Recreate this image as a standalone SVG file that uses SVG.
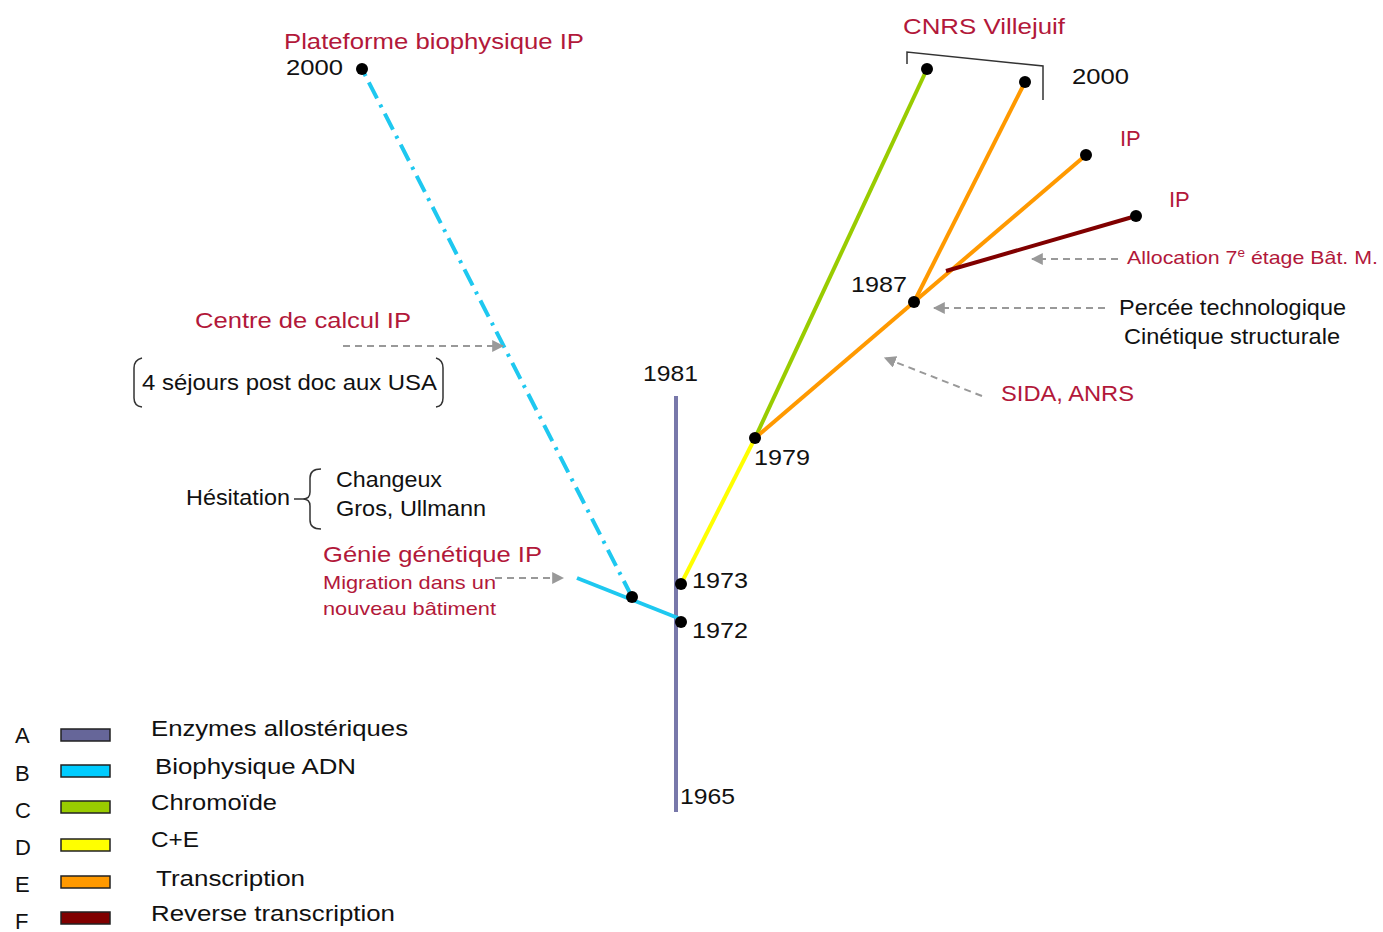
<svg xmlns="http://www.w3.org/2000/svg" width="1383" height="932" viewBox="0 0 1383 932">
<style>
text{font-family:"Liberation Sans",Arial,sans-serif;font-size:22px;fill:#111}
.r{fill:#b2183a}
.s{font-size:19px}
.dot{fill:#000}
.arr{stroke:#999;stroke-width:2;stroke-dasharray:7,5;fill:none;marker-end:url(#ah)}
.br{stroke:#333;stroke-width:1.5;fill:none}
.sw{stroke:#222;stroke-width:1.5}
</style>
<defs>
<marker id="ah" viewBox="0 0 10 10" refX="9" refY="5" markerWidth="6" markerHeight="6" markerUnits="strokeWidth" orient="auto">
<path d="M0,0 L10,5 L0,10 z" fill="#999"/>
</marker>
</defs>
<rect width="1383" height="932" fill="#fff"/>
<g id="connectors">
<line x1="676" y1="396" x2="676" y2="812" stroke="#7878aa" stroke-width="4"/>
<line x1="577" y1="578" x2="678" y2="618" stroke="#1ec8f0" stroke-width="4"/>
<line x1="632" y1="597" x2="362" y2="69" stroke="#1ec8f0" stroke-width="4" stroke-dasharray="18,7,3,7"/>
<line x1="681" y1="584" x2="755" y2="438" stroke="#ffff00" stroke-width="4"/>
<line x1="755" y1="438" x2="927" y2="69" stroke="#99cc00" stroke-width="4"/>
<line x1="755" y1="438" x2="914" y2="302" stroke="#ff9900" stroke-width="4"/>
<line x1="914" y1="302" x2="1025" y2="82" stroke="#ff9900" stroke-width="4"/>
<line x1="914" y1="302" x2="1086" y2="155" stroke="#ff9900" stroke-width="4"/>
<line x1="946" y1="271" x2="1136" y2="216" stroke="#800000" stroke-width="4"/>
<path class="arr" d="M343,346 H503"/>
<path class="arr" d="M495,578 H563"/>
<path class="arr" d="M1118,259 H1032"/>
<path class="arr" d="M1105,308 H934"/>
<path class="arr" d="M982,396 L885,358"/>
<path class="br" d="M907,64 V52 L1043,66 V100"/>
<path class="br" d="M142,358 Q134,360 134,368 V398 Q134,406 142,407"/>
<path class="br" d="M436,358 Q443,360 443,368 V398 Q443,406 436,407"/>
<path class="br" d="M321,469 Q310,469 310,478 V492 Q310,499 303,499 Q310,499 310,506 V520 Q310,529 321,529 M294,499 H303"/>
</g>
<g id="dots">
<circle class="dot" cx="362" cy="69" r="6"/>
<circle class="dot" cx="632" cy="597" r="6"/>
<circle class="dot" cx="681" cy="622" r="6"/>
<circle class="dot" cx="681" cy="584" r="6"/>
<circle class="dot" cx="755" cy="438" r="6"/>
<circle class="dot" cx="914" cy="302" r="6"/>
<circle class="dot" cx="927" cy="69" r="6"/>
<circle class="dot" cx="1025" cy="82" r="6"/>
<circle class="dot" cx="1086" cy="155" r="6"/>
<circle class="dot" cx="1136" cy="216" r="6"/>
</g>
<g id="labels">
<text class="r" x="284" y="49" textLength="300" lengthAdjust="spacingAndGlyphs">Plateforme biophysique IP</text>
<text x="286" y="75" textLength="57" lengthAdjust="spacingAndGlyphs">2000</text>
<text class="r" x="903" y="34" textLength="162" lengthAdjust="spacingAndGlyphs">CNRS Villejuif</text>
<text x="1072" y="84" textLength="57" lengthAdjust="spacingAndGlyphs">2000</text>
<text class="r" x="1120" y="146">IP</text>
<text class="r" x="1169" y="207">IP</text>
<text class="r s" x="1127" y="264" textLength="251" lengthAdjust="spacingAndGlyphs">Allocation 7<tspan font-size="12" dy="-7">e</tspan><tspan dy="7"> étage Bât. M.</tspan></text>
<text x="1119" y="315" textLength="227" lengthAdjust="spacingAndGlyphs">Percée technologique</text>
<text x="1124" y="344" textLength="216" lengthAdjust="spacingAndGlyphs">Cinétique structurale</text>
<text class="r" x="1001" y="401" textLength="133" lengthAdjust="spacingAndGlyphs">SIDA, ANRS</text>
<text x="851" y="292" textLength="56" lengthAdjust="spacingAndGlyphs">1987</text>
<text x="754" y="465" textLength="56" lengthAdjust="spacingAndGlyphs">1979</text>
<text x="643" y="381" textLength="55" lengthAdjust="spacingAndGlyphs">1981</text>
<text x="692" y="588" textLength="56" lengthAdjust="spacingAndGlyphs">1973</text>
<text x="692" y="638" textLength="56" lengthAdjust="spacingAndGlyphs">1972</text>
<text x="680" y="804" textLength="55" lengthAdjust="spacingAndGlyphs">1965</text>
<text class="r" x="195" y="328" textLength="216" lengthAdjust="spacingAndGlyphs">Centre de calcul IP</text>
<text x="142" y="390" textLength="295" lengthAdjust="spacingAndGlyphs">4 séjours post doc aux USA</text>
<text x="186" y="505" textLength="104" lengthAdjust="spacingAndGlyphs">Hésitation</text>
<text x="336" y="487" textLength="106" lengthAdjust="spacingAndGlyphs">Changeux</text>
<text x="336" y="516" textLength="150" lengthAdjust="spacingAndGlyphs">Gros, Ullmann</text>
<text class="r" x="323" y="562" textLength="219" lengthAdjust="spacingAndGlyphs">Génie génétique IP</text>
<text class="r s" x="323" y="589" textLength="173" lengthAdjust="spacingAndGlyphs">Migration dans un</text>
<text class="r s" x="323" y="615" textLength="173" lengthAdjust="spacingAndGlyphs">nouveau bâtiment</text>
</g>
<g id="legend">
<text x="15" y="743">A</text>
<text x="15" y="781">B</text>
<text x="15" y="818">C</text>
<text x="15" y="855">D</text>
<text x="15" y="892">E</text>
<text x="15" y="929">F</text>
<rect class="sw" x="61" y="729" width="49" height="12" fill="#666699"/>
<rect class="sw" x="61" y="765" width="49" height="12" fill="#00ccff"/>
<rect class="sw" x="61" y="801" width="49" height="12" fill="#99cc00"/>
<rect class="sw" x="61" y="839" width="49" height="12" fill="#ffff00"/>
<rect class="sw" x="61" y="876" width="49" height="12" fill="#ff9900"/>
<rect class="sw" x="61" y="912" width="49" height="12" fill="#800000"/>
<text x="151" y="736" textLength="257" lengthAdjust="spacingAndGlyphs">Enzymes allostériques</text>
<text x="155" y="774" textLength="201" lengthAdjust="spacingAndGlyphs">Biophysique ADN</text>
<text x="151" y="810" textLength="126" lengthAdjust="spacingAndGlyphs">Chromoïde</text>
<text x="151" y="847" textLength="48" lengthAdjust="spacingAndGlyphs">C+E</text>
<text x="156" y="886" textLength="149" lengthAdjust="spacingAndGlyphs">Transcription</text>
<text x="151" y="921" textLength="244" lengthAdjust="spacingAndGlyphs">Reverse transcription</text>
</g>
</svg>
